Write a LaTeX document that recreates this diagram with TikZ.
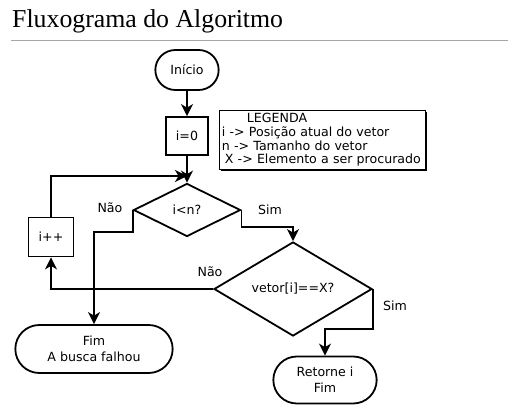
\documentclass[tikz,border=0pt]{standalone}
\usepackage{fontspec}
\setmainfont{Liberation Serif}
\setsansfont{DejaVu Sans}
\usetikzlibrary{arrows.meta, shapes.geometric, shapes.misc, shadows}

\tikzset{
  term/.style = {draw, rounded rectangle, line width=1.8pt, font=\sffamily\fontsize{12.6}{16}\selectfont, align=center},
  proc/.style = {draw, rectangle, line width=1.8pt, font=\sffamily\fontsize{12.6}{16}\selectfont, inner sep=0pt},
  cond/.style = {draw, diamond, line width=1.8pt, font=\sffamily\fontsize{12.6}{16}\selectfont, inner sep=0pt},
  flow/.style = {line width=1.8pt, -{Stealth[length=12pt, width=12pt, inset=3.5pt]}},
  lbl/.style  = {font=\sffamily\fontsize{12.6}{16}\selectfont}
}

\begin{document}
\begin{tikzpicture}[x=1pt, y=-1pt]
\useasboundingbox (0,0) rectangle (508,414);
% titulo
\node[anchor=base west, inner sep=0pt, font=\fontsize{25.8}{28}\selectfont] (titulo) at (12,28) {Fluxograma do Algoritmo};
\draw[gray!70, line width=1pt] (11,41) -- (508,41);

% nos
\node[term, minimum width=70pt, minimum height=40pt] (inicio) at (187,70) {Início};
\node[proc, minimum width=42pt, minimum height=38pt] (init) at (187,136) {i=0};
\node[cond, minimum width=107pt, minimum height=53pt] (cond1) at (187,210) {i<n?};
\node[proc, minimum width=45pt, minimum height=39pt] (inc) at (51,237) {i++};
\node[cond, minimum width=158pt, minimum height=79pt] (cond2) at (293,289) {vetor[i]==X?};
\node[term, minimum width=164pt, minimum height=48pt] (fim) at (94,349) {Fim\\A busca falhou};
\node[term, minimum width=110pt, minimum height=47pt] (ret) at (325,380) {Retorne i\\Fim};

% legenda
\node[draw, line width=0.8pt, fill=white, anchor=north west, text width=201pt, minimum height=59pt,
      inner xsep=2.5pt, inner ysep=2pt, align=left, font=\sffamily\fontsize{12.6}{13.6}\selectfont,
      drop shadow={shadow xshift=1.6pt, shadow yshift=-1.6pt, fill=black, opacity=1}] (legenda) at (219,110)
  {\hspace{25pt}LEGENDA\\ i -> Posição atual do vetor\\ n -> Tamanho do vetor\\ \hspace{3pt}X -> Elemento a ser procurado};

% ligacoes
\coordinate (junta) at (187,176);
\draw[flow] (inicio) -- (init);
\draw[flow] (init) -- (cond1);
\draw[flow] (inc.north) |- (junta);
\draw[flow] (cond1.west) -- ++(0,22) -| (fim.north);
\draw[flow] (cond1.east) -- ++(0,17) -| (cond2.north);
\draw[flow] (cond2.west) -| (inc.south);
\draw[flow] (cond2.east) -- ++(0,40) -| (ret.north);

% rotulos
\node[lbl] (nao1) at (110,208) {Não};
\node[lbl] (sim1) at (270,210) {Sim};
\node[lbl] (nao2) at (210,272) {Não};
\node[lbl] (sim2) at (395,306) {Sim};
\end{tikzpicture}
\end{document}
